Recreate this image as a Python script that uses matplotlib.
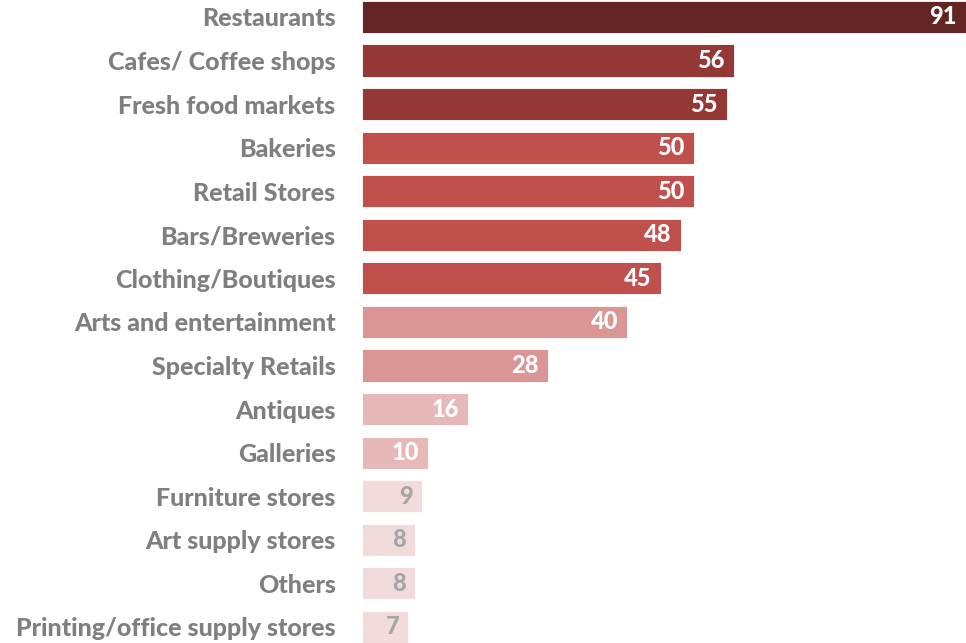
import matplotlib.pyplot as plt

categories = ["Restaurants", "Cafes/ Coffee shops", "Fresh food markets", "Bakeries",
              "Retail Stores", "Bars/Breweries", "Clothing/Boutiques",
              "Arts and entertainment", "Specialty Retails", "Antiques", "Galleries",
              "Furniture stores", "Art supply stores", "Others",
              "Printing/office supply stores"]
values = [91, 56, 55, 50, 50, 48, 45, 40, 28, 16, 10, 9, 8, 8, 7]

# colour by band, as in the original
def bar_color(v):
    if v >= 90:
        return "#632523"
    if v >= 55:
        return "#953735"
    if v >= 45:
        return "#C0504D"
    if v >= 20:
        return "#D99694"
    if v >= 10:
        return "#E6B9B8"
    return "#F2DCDB"

colors = [bar_color(v) for v in values]
label_colors = ["#A6A6A6" if v < 10 else "white" for v in values]

plt.rcParams['font.family'] = ['Lato', 'DejaVu Sans']

fig = plt.figure(figsize=(9.66, 6.43), dpi=100)
ax = fig.add_axes([362 / 966, 0, 1 - 362 / 966, 1])

ypos = list(range(len(values)))
ax.barh(ypos, values, height=0.74, color=colors, edgecolor="white", linewidth=0.6)
ax.set_xlim(0, 91)
ax.set_ylim(14.37, -0.39)

ax.set_yticks(ypos)
ax.set_yticklabels(categories, fontsize=18, fontweight="black", color="#7F7F7F")
ax.tick_params(axis="y", length=0, pad=19)
ax.set_xticks([])
for s in ax.spines.values():
    s.set_visible(False)

for y, v, c in zip(ypos, values, label_colors):
    ax.annotate(str(v), xy=(v, y), xytext=(-6.5, 0), textcoords="offset points",
                ha="right", va="center", fontsize=17, fontweight="black", color=c)

plt.savefig("out.png", dpi=100)
